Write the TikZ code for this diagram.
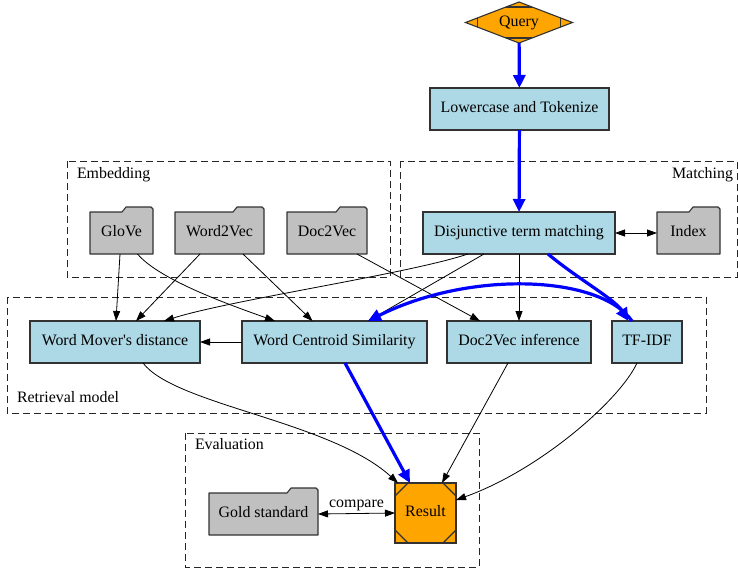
\documentclass[tikz,border=0pt]{standalone}
\usepackage{fontspec}
\setmainfont{Liberation Serif}
\newfontfamily\graphfont{Liberation Serif}
\usetikzlibrary{shapes.geometric,arrows.meta,backgrounds,calc}
\definecolor{nodeblue}{RGB}{173,216,230}
\definecolor{foldergray}{RGB}{192,192,192}
\definecolor{qorange}{RGB}{255,165,0}
\definecolor{bordergray}{RGB}{50,50,50}
\definecolor{hotblue}{RGB}{0,0,255}
\begin{document}
\begin{tikzpicture}[x=1pt,y=-1pt,
  every node/.style={font=\graphfont\fontsize{15.9}{19}\selectfont, inner sep=0pt, outer sep=0pt, text height=10.5pt, text depth=3.5pt},
  proc/.style={rectangle, draw=bordergray, line width=1.1pt, fill=nodeblue, minimum height=42pt},
  folder/.style={rectangle, minimum height=42pt},
  folderbg/.style={draw=bordergray, line width=1.1pt, fill=foldergray, line join=round},
  cluster/.style={draw=black!85, line width=0.9pt, dash pattern=on 7pt off 4pt},
  query/.style={diamond, draw=bordergray, line width=1.1pt, fill=qorange, aspect=2.6,
    minimum width=107pt, minimum height=41pt,
    path picture={
      \draw[line width=1.1pt, bordergray] ([xshift=12pt]path picture bounding box.west) ++(0pt,-30pt) -- ++(0pt,60pt);
      \draw[line width=1.1pt, bordergray] ([xshift=-12pt]path picture bounding box.east) ++(0pt,-30pt) -- ++(0pt,60pt);
      \draw[line width=1.1pt, bordergray] ([yshift=-5pt]path picture bounding box.north) ++(-30pt,0pt) -- ++(60pt,0pt);
      \draw[line width=1.1pt, bordergray] ([yshift=5pt]path picture bounding box.south) ++(-30pt,0pt) -- ++(60pt,0pt);
    }},
  resultbox/.style={rectangle, draw=bordergray, line width=1.1pt, fill=qorange,
    minimum width=61pt, minimum height=60pt,
    path picture={
      \draw[line width=1.1pt, bordergray] ([yshift=13pt]path picture bounding box.south west) -- ([xshift=13pt]path picture bounding box.south west);
      \draw[line width=1.1pt, bordergray] ([yshift=-13pt]path picture bounding box.north west) -- ([xshift=13pt]path picture bounding box.north west);
      \draw[line width=1.1pt, bordergray] ([yshift=13pt]path picture bounding box.south east) -- ([xshift=-13pt]path picture bounding box.south east);
      \draw[line width=1.1pt, bordergray] ([yshift=-13pt]path picture bounding box.north east) -- ([xshift=-13pt]path picture bounding box.north east);
    }},
  edge/.style={line width=0.8pt, -{Triangle[length=10pt,width=7pt]}},
  twoway/.style={line width=0.8pt, {Triangle[length=10pt,width=7pt]}-{Triangle[length=10pt,width=7pt]}},
  hot/.style={draw=hotblue, line width=3.2pt, -{Triangle[length=13pt,width=12pt]}}
]
\useasboundingbox (0,0) rectangle (738,568);

% nodes
\node[query] (query) at (519,22.5) {Query};
\node[proc, minimum width=179pt] (lower) at (519.5,109) {Lowercase and Tokenize};
\node[proc, minimum width=192pt] (disj) at (519,233) {Disjunctive term matching};
\node[folder, minimum width=63pt] (index) at (688.5,233) {Index};
\node[folder, minimum width=63pt] (glove) at (121.5,233) {GloVe};
\node[folder, minimum width=89pt] (w2v) at (219.5,233) {Word2Vec};
\node[folder, minimum width=80pt] (d2v) at (327,233) {Doc2Vec};
\node[proc, minimum width=170pt] (wmd) at (115,342) {Word Mover\textquotesingle s distance};
\node[proc, minimum width=185pt] (wcs) at (334.5,342) {Word Centroid Similarity};
\node[proc, minimum width=144pt] (d2vi) at (519,342) {Doc2Vec inference};
\node[proc, minimum width=70pt] (tfidf) at (647,342) {TF-IDF};
\node[folder, minimum width=109pt] (gold) at (263.5,514) {Gold standard};
\node[resultbox] (result) at (425.5,513) {Result};

% cluster labels
\node[anchor=west] (lemb) at (77,175) {Embedding};
\node[anchor=east] (lmatch) at (733,175) {Matching};
\node[anchor=west] (lret) at (17,399) {Retrieval model};
\node[anchor=west] (leval) at (195,446) {Evaluation};

% background: clusters and folder shapes
\begin{scope}[on background layer]
  \draw[cluster] (67,161) rectangle (390,277);
  \draw[cluster] (400,161) rectangle (737,277);
  \draw[cluster] (7,297) rectangle (706,413);
  \draw[cluster] (185,433) rectangle (479,567);
  \foreach \n in {glove,w2v,d2v,index,gold}{
    \draw[folderbg] (\n.south west) -- (\n.north west)
      -- ([xshift=-31pt]\n.north east)
      -- ([xshift=-27pt,yshift=5pt]\n.north east)
      -- ([xshift=-2pt,yshift=5pt]\n.north east)
      -- ([yshift=3pt]\n.north east)
      -- (\n.south east) -- cycle;
  }
\end{scope}

% edges
\draw[hot] (query) -- (lower);
\draw[hot] (lower) -- (disj);
\draw[twoway] (disj) -- (index);

\draw[edge] ([xshift=-1.5pt]glove.south) -- ([xshift=1pt]wmd.north);
\draw[edge] ([xshift=16pt]glove.south) .. controls +(22,26) and +(-45,-16) .. ([xshift=-59.5pt]wcs.north);
\draw[edge] ([xshift=-19.5pt]w2v.south) -- ([xshift=21pt]wmd.north);
\draw[edge] ([xshift=23.5pt]w2v.south) -- ([xshift=-22pt]wcs.north);
\draw[edge] ([xshift=30pt]d2v.south) -- ([xshift=-39pt]d2vi.north);
\draw[edge] ([xshift=-51pt]disj.south) .. controls +(-60,20) and +(66,-21) .. ([xshift=49pt]wmd.north);
\draw[edge] ([xshift=-35pt]disj.south) -- ([xshift=33.5pt]wcs.north);
\draw[edge] (disj) -- (d2vi);
\draw[hot] ([xshift=29pt]disj.south) .. controls +(30,25) and +(-14,-22) .. ([xshift=-18.5pt]tfidf.north);
\draw[hot] ([xshift=-15pt]tfidf.north) .. controls +(-32,-46) and +(102,-51) .. ([xshift=33.5pt]wcs.north);

\draw[edge] (wcs.west) -- (wmd.east);
\draw[edge] ([xshift=28pt]wmd.south) .. controls +(32,42) and +(-68,-62) .. ([xshift=-27.5pt]result.north);
\draw[hot] ([xshift=10.5pt]wcs.south) -- ([xshift=-15.5pt]result.north);
\draw[edge] ([xshift=-11pt]d2vi.south) -- ([xshift=16.5pt]result.north);
\draw[edge] ([xshift=-10pt]tfidf.south) .. controls +(-17,37) and +(84,-30) .. ([yshift=13pt]result.east);
\draw[twoway] (gold.east) -- node[above=3pt] (cmp) {compare} (result.west);
\end{tikzpicture}
\end{document}
